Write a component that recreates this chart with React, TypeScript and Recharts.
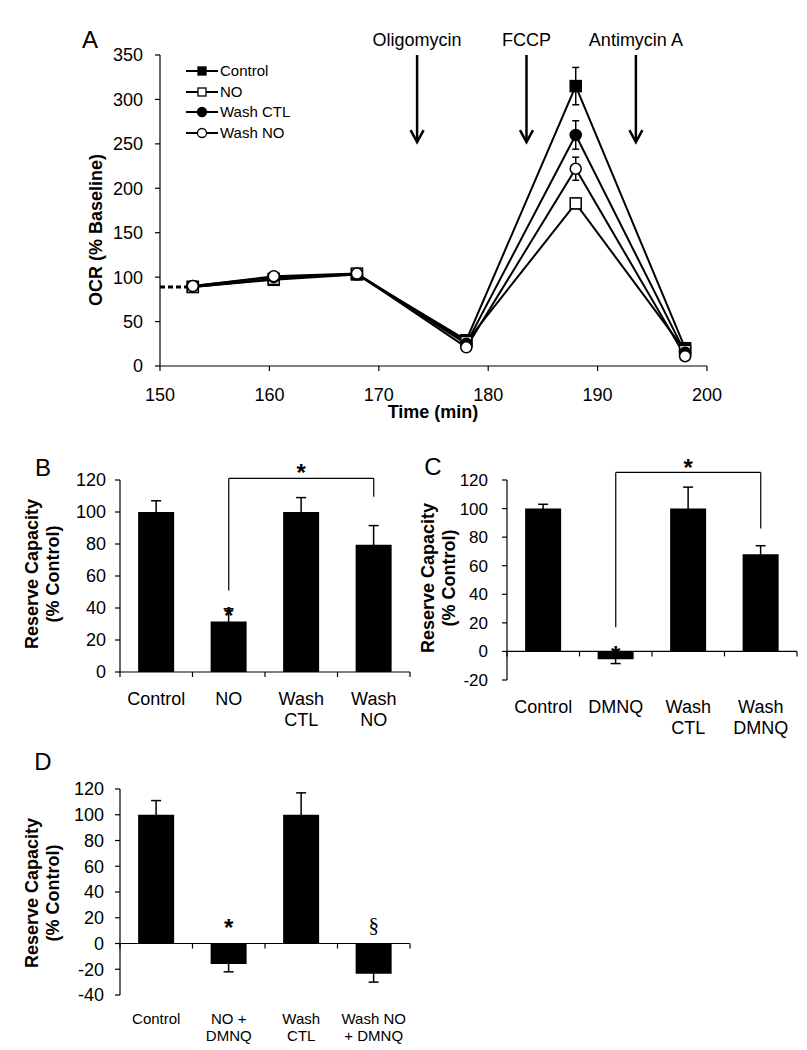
// Mitochondrial OCR time course (A) and reserve capacity bars (B, C, D)

import React from 'react';
import { LineChart, Line, XAxis, YAxis, ErrorBar, Legend, ReferenceLine, ReferenceDot, BarChart, Bar } from 'recharts';

const FONT = 'Arial, "Liberation Sans", Helvetica, sans-serif';
const SERIF = '"Liberation Serif", "Times New Roman", serif';

// --- Panel A data ---
const minutes = [153, 160.4, 168, 178, 188, 198];
const control = [89, 97, 103, 29, 315, 20];
const controlErr = [3, 4, 4, 3, 21, 2];
const no = [89, 98, 104, 27, 183, 17];
const noErr = [3, 4, 4, 3, 6, 2];
const washCtl = [90, 100, 103, 25, 260, 15];
const washCtlErr = [3, 3, 3, 3, 16, 2];
const washNo = [90, 101, 104, 21, 222, 11];
const washNoErr = [3, 3, 3, 3, 13, 2];
const preMinutes = [150, 153];
const preValues = [89, 89];
const timeTicks = [150, 160, 170, 180, 190, 200];
const ocrTicks = [0, 50, 100, 150, 200, 250, 300, 350];
const injectionNames = ['Oligomycin', 'FCCP', 'Antimycin A'];
const injectionTimes = [173.5, 183.5, 193.5];
const arrowFrom = 350;
const arrowTo = 252;

// --- Panel B data ---
const bCats = ['Control', 'NO', 'Wash CTL', 'Wash NO'];
const bTicks = [['Control'], ['NO'], ['Wash', 'CTL'], ['Wash', 'NO']];
const bValues = [100, 31.5, 100, 79.5];
const bErr = [7, 8, 9, 12];

// --- Panel C data ---
const cCats = ['Control', 'DMNQ', 'Wash CTL', 'Wash DMNQ'];
const cTicks = [['Control'], ['DMNQ'], ['Wash', 'CTL'], ['Wash', 'DMNQ']];
const cValues = [100, -5.5, 100, 68];
const cErr = [3, 3, 15, 6];

// --- Panel D data ---
const dCats = ['Control', 'NO + DMNQ', 'Wash CTL', 'Wash NO + DMNQ'];
const dTicks = [['Control'], ['NO +', 'DMNQ'], ['Wash', 'CTL'], ['Wash NO', '+ DMNQ']];
const dValues = [100, -16, 100, -23.5];
const dErr = [11, 6, 17, 6.5];

const rowsA = minutes.map((t, i) => ({
  t,
  control: control[i], controlErr: controlErr[i],
  no: no[i], noErr: noErr[i],
  washCtl: washCtl[i], washCtlErr: washCtlErr[i],
  washNo: washNo[i], washNoErr: washNoErr[i],
}));
const preRows = preMinutes.map((t, i) => ({ t, v: preValues[i] }));

const SERIES = [
  { key: 'control', err: 'controlErr', name: 'Control', shape: 'square', fill: '#000' },
  { key: 'no', err: 'noErr', name: 'NO', shape: 'square', fill: '#fff' },
  { key: 'washCtl', err: 'washCtlErr', name: 'Wash CTL', shape: 'circle', fill: '#000' },
  { key: 'washNo', err: 'washNoErr', name: 'Wash NO', shape: 'circle', fill: '#fff' },
];

const toRows = (cats: string[], vals: number[], errs: number[]) =>
  cats.map((cat, i) => ({ cat, v: vals[i], err: errs[i] }));

function markerDot(shape: string, fill: string, size: number) {
  return (p: any) => {
    if (p.cx == null || p.cy == null) return <g key={p.index} />;
    if (shape === 'square')
      return <rect key={p.index} x={p.cx - size / 2} y={p.cy - size / 2} width={size} height={size} fill={fill} stroke="#000" strokeWidth={1.5} />;
    return <circle key={p.index} cx={p.cx} cy={p.cy} r={size / 2} fill={fill} stroke="#000" strokeWidth={1.5} />;
  };
}

function LegendA({ payload }: any) {
  return (
    <div style={{ fontFamily: FONT, fontSize: 15, color: '#000' }}>
      {(payload || []).map((e: any) => {
        const s = SERIES.find(x => x.key === e.dataKey);
        if (!s) return null;
        return (
          <div key={s.key} style={{ display: 'flex', alignItems: 'center', height: 20.5 }}>
            <svg width={34} height={20} style={{ display: 'block' }}>
              <line x1={0} y1={10} x2={32} y2={10} stroke="#000" strokeWidth={2} />
              {s.shape === 'square'
                ? <rect x={12} y={6} width={8} height={8} fill={s.fill} stroke="#000" strokeWidth={1.3} />
                : <circle cx={16} cy={10} r={4.5} fill={s.fill} stroke="#000" strokeWidth={1.3} />}
            </svg>
            <span style={{ lineHeight: '20px' }}>{s.name}</span>
          </div>
        );
      })}
    </div>
  );
}

const injectionArrow = (label: string) => (p: any) => {
  const { x1, y1, x2, y2 } = p;
  return (
    <g>
      <line x1={x1} y1={y1} x2={x2} y2={y2 - 1} stroke="#000" strokeWidth={2.5} />
      <path d={`M${x2 - 6.5},${y2 - 12} L${x2},${y2} L${x2 + 6.5},${y2 - 12}`} fill="none" stroke="#000" strokeWidth={2.5} />
      <text x={x1} y={y1 - 9} textAnchor="middle" fontSize={18} fontFamily={FONT} fill="#000">{label}</text>
    </g>
  );
};

const zeroAxis = (n: number) => (p: any) => {
  const { x1, y1, x2 } = p;
  const step = (x2 - x1) / n;
  return (
    <g>
      <line x1={x1} y1={y1} x2={x2} y2={y1} stroke="#000" strokeWidth={1.2} />
      {Array.from({ length: n + 1 }, (_, i) => (
        <line key={i} x1={x1 + i * step} x2={x1 + i * step} y1={y1} y2={y1 + 5} stroke="#000" strokeWidth={1.2} />
      ))}
    </g>
  );
};

const textMark = (ch: string, size: number, family: string, dyEm: number, bold = false) => (p: any) => (
  <text x={p.cx} y={p.cy} dy={`${dyEm}em`} textAnchor="middle" fontSize={size} fontFamily={family}
    fontWeight={bold ? 'bold' : 'normal'} fill="#000">{ch}</text>
);
const star = textMark('*', 24, FONT, 0.55, true);

function multiTick(cats: string[], lines: string[][], fontSize: number, lh: number) {
  return (p: any) => {
    const idx = cats.indexOf(p.payload.value);
    const ls = idx >= 0 ? lines[idx] : [String(p.payload.value)];
    return (
      <text x={p.x} y={p.y} textAnchor="middle" fontSize={fontSize} fontFamily={FONT} fill="#000">
        {ls.map((l, i) => <tspan key={i} x={p.x} dy={i === 0 ? '0.71em' : lh}>{l}</tspan>)}
      </text>
    );
  };
}

function VTitle({ cx, cy, lines }: { cx: number; cy: number; lines: string[] }) {
  return (
    <div style={{
      position: 'absolute', left: cx, top: cy, transform: 'translate(-50%, -50%) rotate(-90deg)',
      fontFamily: FONT, fontWeight: 'bold', fontSize: 18, lineHeight: '21px', textAlign: 'center', whiteSpace: 'nowrap',
    }}>
      {lines.map(l => <div key={l}>{l}</div>)}
    </div>
  );
}

function Letter({ cx, cy, ch }: { cx: number; cy: number; ch: string }) {
  return (
    <div style={{ position: 'absolute', left: cx, top: cy, transform: 'translate(-50%, -50%)', fontFamily: FONT, fontSize: 24, lineHeight: 1 }}>
      {ch}
    </div>
  );
}

interface PanelProps {
  cats: string[]; ticks: string[][]; values: number[]; errs: number[];
  domain: [number, number]; yTicks: number[];
  margin: { top: number; right: number; bottom: number; left: number };
  xFont: number; xLine: number; xMargin: number; yFont: number; yMargin: number;
  extras?: React.ReactNode[];
}

function ReservePanel(p: PanelProps) {
  return (
    <BarChart width={p.margin.left + 60 + 290 + p.margin.right} height={300} data={toRows(p.cats, p.values, p.errs)}
      margin={p.margin} barCategoryGap="25%">
      <XAxis dataKey="cat" height={40} axisLine={false} tickLine={false} tickSize={0} tickMargin={p.xMargin} interval={0}
        tick={multiTick(p.cats, p.ticks, p.xFont, p.xLine)} />
      <YAxis type="number" domain={p.domain} ticks={p.yTicks} width={60} interval={0} tickSize={5} tickMargin={p.yMargin}
        axisLine={{ stroke: '#000', strokeWidth: 1.2 }} tickLine={{ stroke: '#000', strokeWidth: 1.2 }}
        tick={{ fill: '#000', fontSize: p.yFont, fontFamily: FONT }} allowDataOverflow />
      <Bar dataKey="v" fill="#000" isAnimationActive={false}>
        <ErrorBar dataKey="err" direction="y" width={5} stroke="#000" strokeWidth={1.5} isAnimationActive={false} />
      </Bar>
      <ReferenceLine y={0} shape={zeroAxis(p.cats.length)} ifOverflow="visible" />
      {p.extras}
    </BarChart>
  );
}

export default function App() {
  return (
    <div style={{ position: 'absolute', left: 0, top: 0, width: 807, height: 1050, background: '#fff', overflow: 'hidden' }}>
      {/* Panel A */}
      <div style={{ position: 'absolute', left: 0, top: 0 }}>
        <LineChart width={760} height={430} data={rowsA} margin={{ top: 55, right: 53, bottom: 34, left: 100 }}>
          <XAxis dataKey="t" type="number" domain={[150, 200]} ticks={timeTicks} interval={0} height={30}
            tickSize={5} tickMargin={17} allowDataOverflow
            axisLine={{ stroke: '#000', strokeWidth: 1.2 }} tickLine={{ stroke: '#000', strokeWidth: 1.2 }}
            tick={{ fill: '#000', fontSize: 18, fontFamily: FONT }} />
          <YAxis type="number" domain={[0, 350]} ticks={ocrTicks} interval={0} width={60}
            tickSize={5} tickMargin={12} allowDataOverflow
            axisLine={{ stroke: '#000', strokeWidth: 1.2 }} tickLine={{ stroke: '#000', strokeWidth: 1.2 }}
            tick={{ fill: '#000', fontSize: 18, fontFamily: FONT }} />
          <Line data={preRows} dataKey="v" stroke="#000" strokeWidth={3} strokeDasharray="5 3" dot={false}
            legendType="none" isAnimationActive={false} />
          {SERIES.map(s => (
            <Line key={s.key} dataKey={s.key} name={s.name} stroke="#000" strokeWidth={2}
              dot={markerDot(s.shape, s.fill, 11)} activeDot={false} isAnimationActive={false}>
              <ErrorBar dataKey={s.err} direction="y" width={3.5} stroke="#000" strokeWidth={1.5} isAnimationActive={false} />
            </Line>
          ))}
          {injectionNames.map((name, i) => (
            <ReferenceLine key={name} segment={[{ x: injectionTimes[i], y: arrowFrom }, { x: injectionTimes[i], y: arrowTo }]}
              shape={injectionArrow(name)} ifOverflow="visible" />
          ))}
          <Legend layout="vertical" align="center" verticalAlign="middle" content={<LegendA />}
            wrapperStyle={{ top: 61, left: 186, width: 120 }} />
        </LineChart>
      </div>
      <Letter cx={90} cy={40} ch="A" />
      <VTitle cx={96} cy={230} lines={['OCR (% Baseline)']} />
      <div style={{ position: 'absolute', left: 433, top: 412, transform: 'translate(-50%, -50%)', fontFamily: FONT, fontWeight: 'bold', fontSize: 18, whiteSpace: 'nowrap' }}>
        Time (min)
      </div>

      {/* Panel B */}
      <div style={{ position: 'absolute', left: 0, top: 440 }}>
        <ReservePanel cats={bCats} ticks={bTicks} values={bValues} errs={bErr}
          domain={[0, 120]} yTicks={[0, 20, 40, 60, 80, 100, 120]}
          margin={{ top: 40, right: 14, bottom: 28, left: 60 }}
          xFont={18} xLine={21.7} xMargin={20} yFont={18} yMargin={9}
          extras={[
            <ReferenceLine key="b1" segment={[{ x: 'NO', y: 51 }, { x: 'NO', y: 121 }]} stroke="#000" strokeWidth={1.2} ifOverflow="visible" />,
            <ReferenceLine key="b2" segment={[{ x: 'NO', y: 121 }, { x: 'Wash NO', y: 121 }]} stroke="#000" strokeWidth={1.2} ifOverflow="visible" />,
            <ReferenceLine key="b3" segment={[{ x: 'Wash NO', y: 121 }, { x: 'Wash NO', y: 109.5 }]} stroke="#000" strokeWidth={1.2} ifOverflow="visible" />,
            <ReferenceDot key="b4" x="Wash CTL" y={127.5} r={0} ifOverflow="visible" shape={star} />,
            <ReferenceDot key="b5" x="NO" y={38} r={0} ifOverflow="visible" shape={star} />,
          ]} />
      </div>
      <Letter cx={43} cy={468} ch="B" />
      <VTitle cx={42.5} cy={574} lines={['Reserve Capacity', '(% Control)']} />

      {/* Panel C */}
      <div style={{ position: 'absolute', left: 400, top: 440 }}>
        <ReservePanel cats={cCats} ticks={cTicks} values={cValues} errs={cErr}
          domain={[-20, 120]} yTicks={[-20, 0, 20, 40, 60, 80, 100, 120]}
          margin={{ top: 40, right: 17, bottom: 20, left: 47 }}
          xFont={18} xLine={21.7} xMargin={20} yFont={17} yMargin={14}
          extras={[
            <ReferenceLine key="c1" segment={[{ x: 'DMNQ', y: 17 }, { x: 'DMNQ', y: 125.3 }]} stroke="#000" strokeWidth={1.2} ifOverflow="visible" />,
            <ReferenceLine key="c2" segment={[{ x: 'DMNQ', y: 125.3 }, { x: 'Wash DMNQ', y: 125.3 }]} stroke="#000" strokeWidth={1.2} ifOverflow="visible" />,
            <ReferenceLine key="c3" segment={[{ x: 'Wash DMNQ', y: 125.3 }, { x: 'Wash DMNQ', y: 86 }]} stroke="#000" strokeWidth={1.2} ifOverflow="visible" />,
            <ReferenceDot key="c4" x="Wash CTL" y={132} r={0} ifOverflow="visible" shape={star} />,
            <ReferenceDot key="c5" x="DMNQ" y={1} r={0} ifOverflow="visible" shape={star} />,
          ]} />
      </div>
      <Letter cx={433} cy={467} ch="C" />
      <VTitle cx={439} cy={578} lines={['Reserve Capacity', '(% Control)']} />

      {/* Panel D */}
      <div style={{ position: 'absolute', left: 0, top: 750 }}>
        <ReservePanel cats={dCats} ticks={dTicks} values={dValues} errs={dErr}
          domain={[-40, 120]} yTicks={[-40, -20, 0, 20, 40, 60, 80, 100, 120]}
          margin={{ top: 39, right: 20, bottom: 15, left: 60 }}
          xFont={15} xLine={17.7} xMargin={18} yFont={18} yMargin={11}
          extras={[
            <ReferenceDot key="d1" x="NO + DMNQ" y={16} r={0} ifOverflow="visible" shape={star} />,
            <ReferenceDot key="d2" x="Wash NO + DMNQ" y={13} r={0} ifOverflow="visible" shape={textMark('§', 21, SERIF, 0.27)} />,
          ]} />
      </div>
      <Letter cx={43} cy={762} ch="D" />
      <VTitle cx={42.5} cy={893} lines={['Reserve Capacity', '(% Control)']} />
    </div>
  );
}
